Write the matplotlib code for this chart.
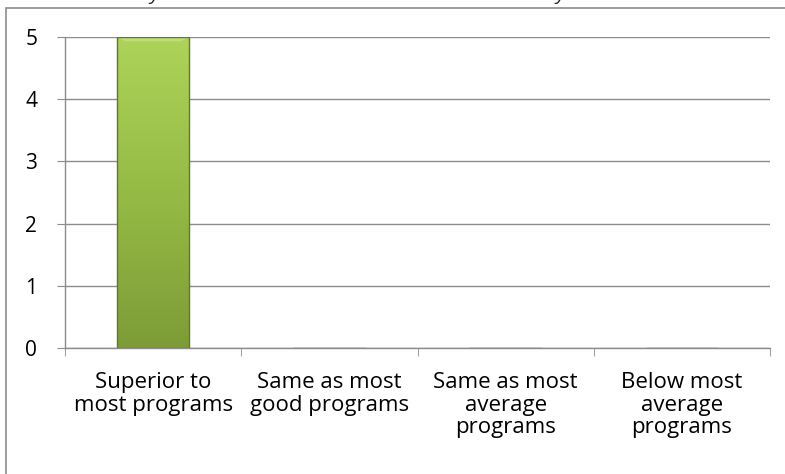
import numpy as np
import matplotlib.pyplot as plt
from matplotlib.colors import LinearSegmentedColormap
from matplotlib.patches import Rectangle

# data
categories = ["Superior to\nmost programs", "Same as most\ngood programs",
              "Same as most\naverage\nprograms", "Below most\naverage\nprograms"]
counts = [5, 0, 0, 0]
yticks = [0, 1, 2, 3, 4, 5]
title = "Rate the education you have obtained as a Graduate Student at Fayetteville State"

plt.rcParams['font.family'] = ['Open Sans', 'DejaVu Sans']

fig = plt.figure(figsize=(7.85, 4.74), dpi=100)
W, H = 785, 474

# outer chart border
fig.patches.append(Rectangle((6 / W, -0.1), 1.0, (H - 8) / H + 0.1, transform=fig.transFigure,
                             fill=False, edgecolor="#8c8c8c", linewidth=1.2))
# title sits mostly above the picture, only its lowest pixels show
fig.text(-0.02, 1 + 0.5 / H, title, fontsize=14, style='italic', va='baseline', ha='left', color="#222222")

ax = fig.add_axes([65 / W, 1 - 348 / H, (770 - 65) / W, (348 - 37) / H])
x = np.arange(len(categories))
bars = ax.bar(x, counts, width=0.41, color="none", edgecolor="#5d7a27", linewidth=1.0, zorder=3)

# vertical gradient fill for the bars
cmap = LinearSegmentedColormap.from_list("g", ["#7d9c37", "#96bb45", "#aed35a"])
grad = np.linspace(0, 1, 256).reshape(-1, 1)
for b in bars:
    if b.get_height() <= 0:
        continue
    x0, w, h = b.get_x(), b.get_width(), b.get_height()
    im = ax.imshow(grad, cmap=cmap, origin='lower', aspect='auto',
                   extent=[x0, x0 + w, 0, h], zorder=2)
    im.set_clip_path(b)
    # lighter bevel on top
    ax.fill([x0, x0 + w, x0 + w * 0.88, x0 + w * 0.12], [h, h, h - 0.07, h - 0.07],
            color="#c3e27a", alpha=0.8, zorder=2.5, linewidth=0)

ax.set_xlim(-0.5, len(categories) - 0.5)
ax.set_ylim(0, 5)
ax.set_yticks(yticks)
ax.set_yticklabels([str(v) for v in yticks], fontsize=15)
ax.set_xticks(np.arange(len(categories) + 1) - 0.5, minor=True)
ax.set_xticks(x)
ax.set_xticklabels(categories, fontsize=16, linespacing=1.12)
ax.tick_params(axis='x', which='major', length=0, pad=17)
ax.tick_params(axis='x', which='minor', length=6, color="#8c8c8c", direction='out')
ax.tick_params(axis='y', length=6, color="#8c8c8c", pad=14)

ax.yaxis.grid(True, color="#8c8c8c", linewidth=1.0, zorder=0)
ax.set_axisbelow(True)
for s in ["top", "right"]:
    ax.spines[s].set_visible(False)
for s in ["left", "bottom"]:
    ax.spines[s].set_color("#8c8c8c")
    ax.spines[s].set_linewidth(1.0)

fig.savefig("out.png", dpi=100)
